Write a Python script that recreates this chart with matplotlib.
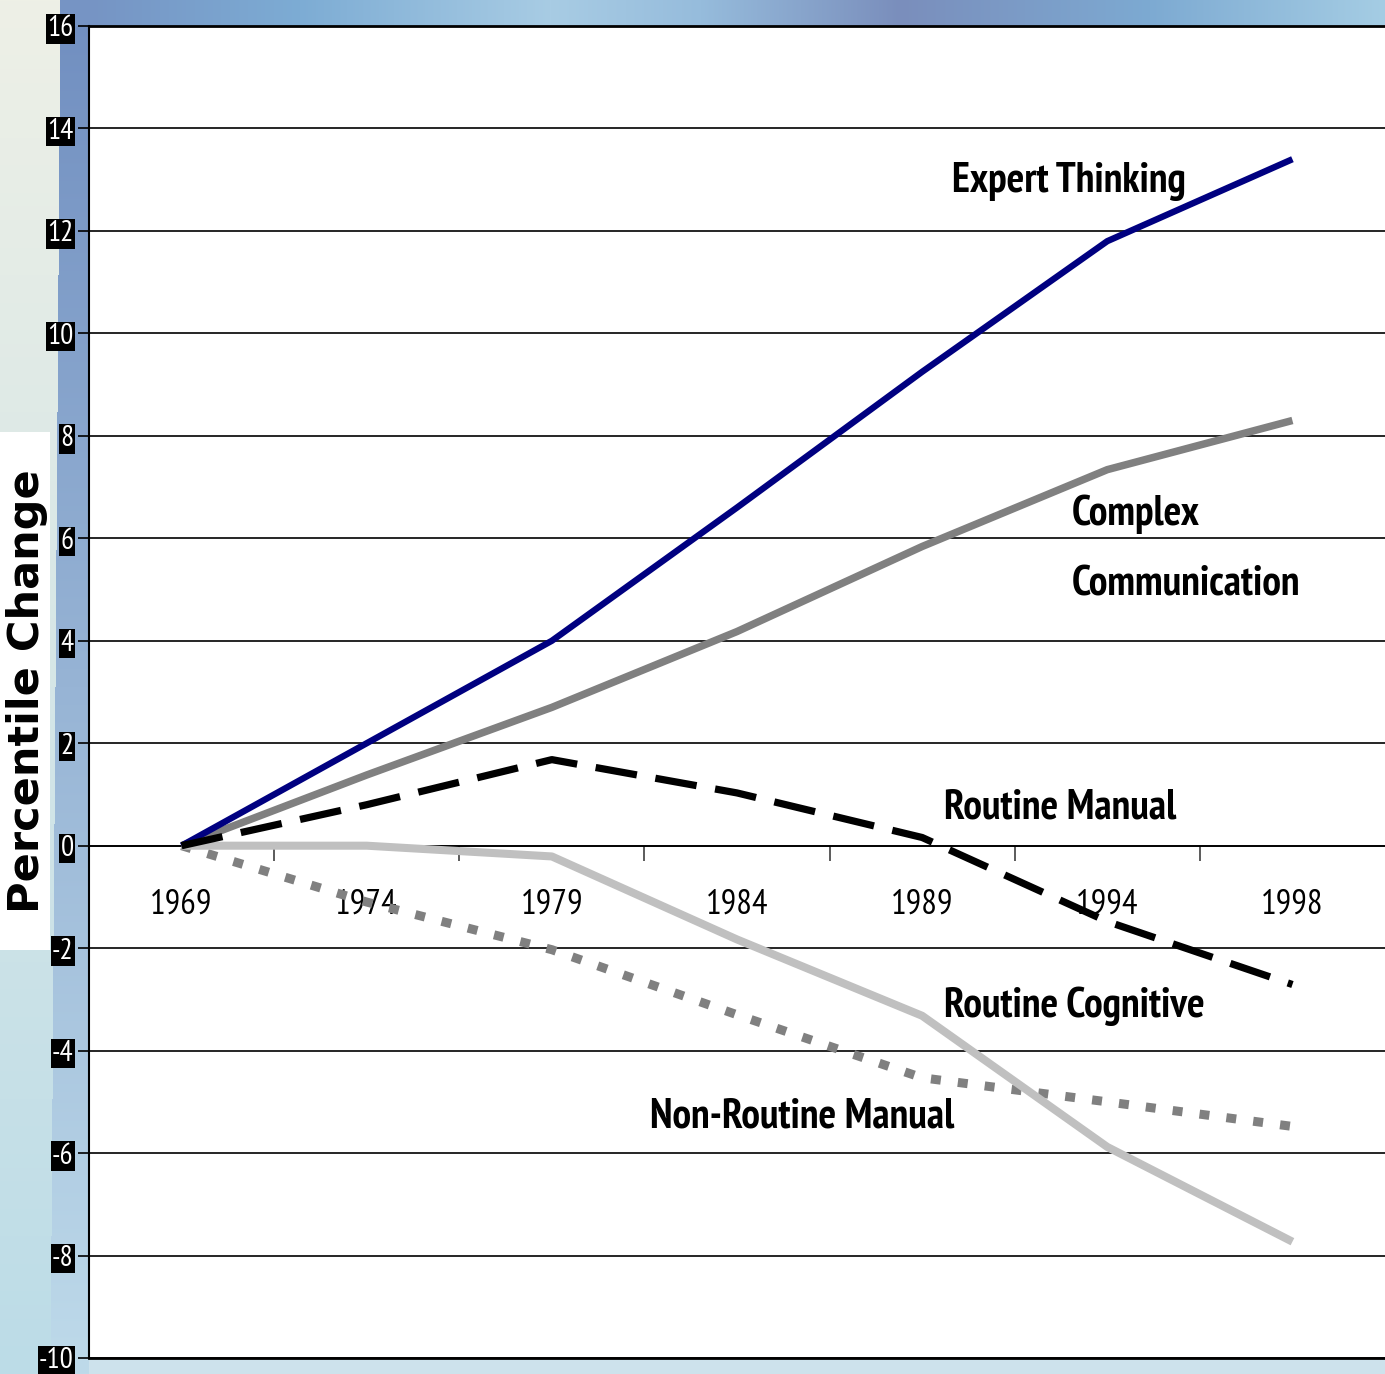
#!/usr/bin/env python3
# coding: utf-8

import numpy as np
import matplotlib
matplotlib.use('Agg')
import matplotlib.pyplot as plt
from matplotlib.patches import Rectangle

years = ['1969', '1974', '1979', '1984', '1989', '1994', '1998']
expert_thinking = [0, 2.0, 4.0, 6.6, 9.25, 11.8, 13.4]
complex_communication = [0, 1.38, 2.7, 4.18, 5.84, 7.34, 8.3]
routine_manual = [0, 0.8, 1.68, 1.03, 0.16, -1.48, -2.71]
routine_cognitive = [0, 0, -0.21, -1.83, -3.32, -5.88, -7.73]
nonroutine_manual = [0, -1.1, -2.03, -3.3, -4.53, -5.0, -5.48]
yticks = list(range(-10, 17, 2))

NARROW = ['PT Sans Narrow', 'DejaVu Sans']
W, H = 1385, 1374


def background():
    # decorative slide background behind the chart
    img = np.zeros((H, W, 3))
    yy = np.linspace(0, 1, H)[:, None]
    xx = np.arange(W)[None, :]
    top = np.array([238, 240, 230]) / 255
    bot = np.array([188, 220, 232]) / 255
    img[:] = top + (bot - top) * yy[..., None]
    # blue strip along the y axis
    s_top = np.array([112, 142, 192]) / 255
    s_bot = np.array([190, 218, 234]) / 255
    strip = s_top + (s_bot - s_top) * yy[..., None]
    edge = 60 - 10 * np.linspace(0, 1, H)[:, None]
    mask = (xx >= edge) & (xx < 90)
    img = np.where(mask[..., None], strip * np.ones((1, W, 1)), img)
    # top band
    kx = [89, 300, 550, 700, 900, 1150, 1385]
    cols = np.array([[118, 148, 196], [125, 172, 212], [168, 204, 228],
                     [150, 188, 220], [122, 142, 188], [125, 170, 210],
                     [165, 205, 228]]) / 255
    band = np.stack([np.interp(np.arange(W), kx, cols[:, c]) for c in range(3)], axis=-1)
    img[:26, 60:] = band[None, 60:]
    img[1358:, 89:] = np.array([205, 226, 236]) / 255
    return img


def main():
    fig = plt.figure(figsize=(W / 100, H / 100), dpi=100)
    bg = fig.add_axes([0, 0, 1, 1], zorder=-1)
    bg.imshow(background(), aspect='auto', interpolation='bilinear')
    bg.axis('off')

    ax = fig.add_axes([89 / W, 16 / H, 1 - 89 / W, (1358 - 26) / H])
    ax.set_facecolor('white')
    x = np.arange(len(years))

    ax.plot(x, expert_thinking, color='#000080', lw=4.6, solid_capstyle='butt', zorder=5)
    ax.plot(x, complex_communication, color='#808080', lw=5.4, solid_capstyle='butt', zorder=4)
    ax.plot(x, routine_manual, color='black', lw=5.2, dashes=(5.8, 2.6),
            dash_capstyle='butt', zorder=6)
    ax.plot(x, routine_cognitive, color='#c0c0c0', lw=5.8, solid_capstyle='butt', zorder=3)
    ax.plot(x, nonroutine_manual, color='#808080', lw=6.5, dashes=(1.1, 1.9),
            dash_capstyle='butt', zorder=2)

    ax.set_xlim(-0.5, len(years) - 0.5)
    ax.set_ylim(-10, 16)
    ax.set_yticks(yticks)
    ax.set_yticklabels([str(v) for v in yticks])
    ax.grid(axis='y', color='black', lw=1.2)
    ax.set_axisbelow(True)

    ax.spines['bottom'].set_position(('data', 0))
    ax.spines['bottom'].set_linewidth(1.2)
    ax.spines['right'].set_visible(False)
    ax.spines['left'].set_linewidth(1.5)
    ax.spines['top'].set_linewidth(2)
    ax.axhline(-10, color='black', lw=2, clip_on=False)

    ax.set_xticks(x[:-1] + 0.5)
    ax.set_xticklabels([])
    ax.tick_params(axis='x', direction='out', length=11, width=1.2, color='#404040')
    ax.tick_params(axis='y', direction='out', length=8, width=1.2, pad=3)
    for lab in ax.get_yticklabels():
        lab.set_fontfamily(NARROW)
        lab.set_fontsize(21)
        lab.set_color('white')
        lab.set_bbox(dict(facecolor='black', edgecolor='none', pad=0.8))

    for i, yr in enumerate(years):
        ax.text(i, -1.15, yr, ha='center', va='center', fontsize=25, family=NARROW, zorder=1)

    kw = dict(fontsize=30, fontweight='bold', family=NARROW, ha='left', va='center', zorder=7)
    ax.text(4.16, 12.96, 'Expert Thinking', **kw)
    ax.text(4.81, 6.46, 'Complex', **kw)
    ax.text(4.81, 5.09, 'Communication', **kw)
    ax.text(4.12, 0.74, 'Routine Manual', **kw)
    ax.text(4.12, -3.14, 'Routine Cognitive', **kw)
    ax.text(2.53, -5.29, 'Non-Routine Manual', **kw)

    # white box behind the axis title
    fig.patches.append(Rectangle((0, 1 - 950 / H), 50 / W, 518 / H, transform=fig.transFigure,
                                 facecolor='white', edgecolor='none', zorder=2))
    fig.text(27 / W, 1 - 691 / H, 'Percentile Change', rotation=90, ha='center', va='center',
             fontsize=31, fontweight='bold', family='DejaVu Sans', zorder=3)

    fig.savefig('out.png', dpi=100)


if __name__ == '__main__':
    main()
